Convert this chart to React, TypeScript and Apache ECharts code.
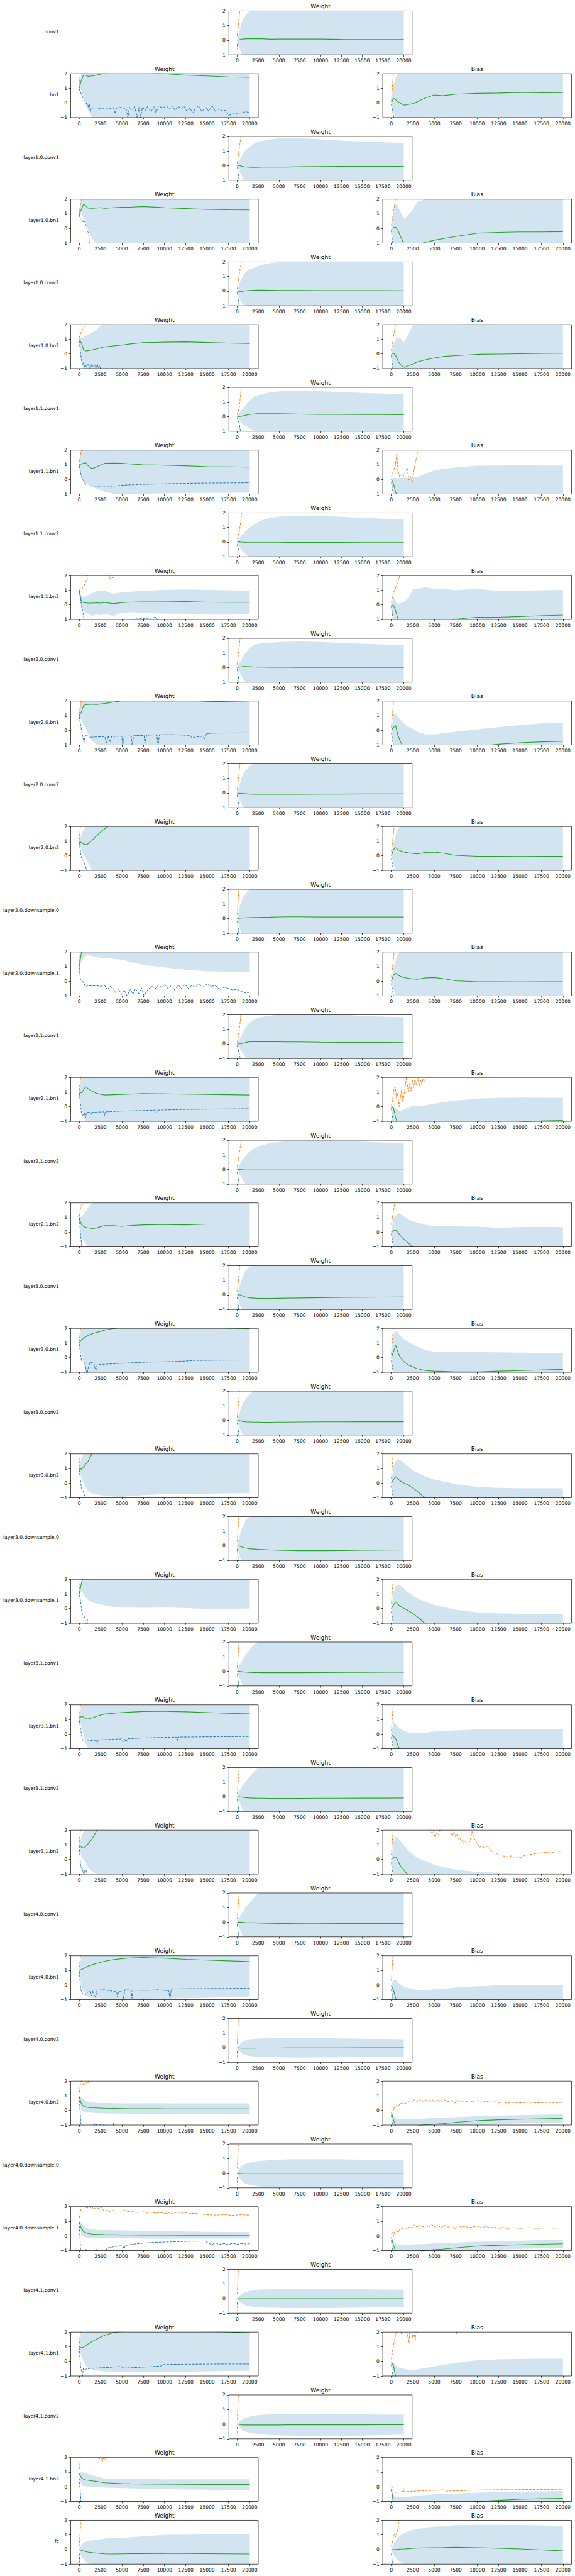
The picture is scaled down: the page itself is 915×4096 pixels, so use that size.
import React, { useEffect, useRef } from "react";
import * as echarts from "echarts";

type Curve = (number | null)[] | [number, number | null][];
interface Plot { mean: Curve; hi: number[]; lo: number[]; mx: Curve; mn: Curve; }

// ---------- shared axes values ----------
const STEPS = [0, 250, 500, 750, 1000, 1500, 2000, 2500, 3000, 4000, 5000, 6000, 7500, 10000, 12500, 15000, 17500, 20000];
const X_TICKS = [0, 2500, 5000, 7500, 10000, 12500, 15000, 17500, 20000];
const X_MIN = -1000, X_MAX = 21000;
const Y_MIN = -1, Y_MAX = 2;

// ---------- per-panel values (mean, band hi/lo, max, min) ----------
const conv1_W: Plot = {
  mean: [0, 0.03, 0.06, 0.09, 0.1, 0.1, 0.1, 0.1, 0.1, 0.07, 0.08, 0.08, 0.08, 0.08, 0.06, 0.05, 0.05, 0.05],
  hi: [0.1, 0.6, 1.15, 1.45, 1.7, 2.05, 2.5, 3, 3, 3, 3, 3, 3, 3, 3, 3, 3, 3],
  lo: [-0.1, -0.5, -0.95, -1.3, -1.6, -2, -2.5, -3, -3, -3, -3, -3, -3, -3, -3, -3, -3, -3],
  mx: [0.3, 1.67, 3.0], mn: [-0.25, -2.0],
};
const bn1_W: Plot = {
  mean: [1.0, 1.55, 1.9, 1.9, 1.82, 1.85, 1.9, 1.97, 2.05, 2.15, 2.15, 2.15, 2.1, 2.0, 1.9, 1.85, 1.78, 1.75],
  hi: [1.05, 2.5, 3, 3, 3, 3, 3, 3, 3, 3, 3, 3, 3, 3, 3, 3, 3, 3],
  lo: [1.0, 0.9, 0.4, -0.15, -0.45, -1.05, -1.5, -3, -3, -3, -3, -3, -3, -3, -3, -3, -3, -3],
  mx: [1.2, 2.8],
  mn: [[0, 0.95], [250, 0.6], [500, 0.25], [750, 0.0], [1000, -0.1], [1100, -0.35], [1200, -0.1], [1300, -0.6], [1400, -0.35], [2000, -0.33], [2500, -0.4], [3000, -0.33], [3500, -0.38], [4000, -0.32], [4200, -0.7], [4400, -0.33], [5000, -0.3], [5500, -0.4], [5700, -1.0], [5900, -0.3], [6200, -0.45], [6500, -0.25], [6800, -1.0], [7000, -0.3], [7200, -1.0], [7400, -0.3], [7800, -0.5], [8000, -0.25], [8400, -0.6], [8800, -0.25], [9000, -0.7], [9300, -0.2], [9800, -0.35], [10200, -0.2], [10600, -0.4], [11000, -0.2], [11200, -0.5], [11600, -0.25], [12000, -0.35], [12300, -0.25], [12600, -0.55], [13000, -0.35], [13300, -0.7], [13600, -0.4], [14000, -0.2], [14400, -0.6], [14800, -0.3], [15200, -0.55], [15600, -0.2], [16000, -0.6], [16400, -0.4], [16800, -0.55], [17200, -0.5], [17500, -0.85], [18000, -0.75], [18500, -0.7], [19000, -0.68], [19500, -0.6], [20000, -0.65]],
};
const bn1_B: Plot = {
  mean: [0, 0.32, 0.22, 0.1, 0.0, -0.15, -0.1, -0.05, 0.08, 0.35, 0.55, 0.5, 0.6, 0.66, 0.68, 0.72, 0.7, 0.71],
  hi: [0.05, 1.2, 1.7, 2.05, 2.5, 3, 3, 3, 3, 3, 3, 3, 3, 3, 3, 3, 3, 3],
  lo: [-0.05, -0.6, -1.15, -1.6, -2, -3, -3, -3, -3, -3, -3, -3, -3, -3, -3, -3, -3, -3],
  mx: [0.1, 2.1], mn: [-0.1, -0.85, -1.6],
};
const l10c1_W: Plot = {
  mean: [0, 0.02, -0.03, -0.07, -0.09, -0.11, -0.12, -0.11, -0.1, -0.1, -0.1, -0.09, -0.07, -0.06, -0.05, -0.05, -0.05, -0.05],
  hi: [0.05, 0.35, 0.6, 0.85, 1.05, 1.3, 1.5, 1.62, 1.7, 1.8, 1.87, 1.9, 1.88, 1.8, 1.72, 1.65, 1.6, 1.57],
  lo: [-0.05, -0.35, -0.65, -0.95, -1.2, -1.5, -1.7, -1.8, -1.85, -1.95, -2, -2, -2, -1.9, -1.8, -1.75, -1.7, -1.65],
  mx: [0.15, 1.2, 2.25], mn: [-0.05, -1.1],
};
const l10b1_W: Plot = {
  mean: [1.0, 1.3, 1.65, 1.55, 1.4, 1.38, 1.4, 1.42, 1.38, 1.42, 1.45, 1.45, 1.5, 1.42, 1.36, 1.3, 1.28, 1.27],
  hi: [1.05, 2.3, 3, 3, 3, 3, 3, 3, 3, 3, 3, 3, 3, 3, 3, 3, 3, 3],
  lo: [1.0, 0.95, 0.75, 0.4, 0.0, -0.7, -1.3, -3, -3, -3, -3, -3, -3, -3, -3, -3, -3, -3],
  mx: [1.1, 1.98, 2.9],
  mn: [[0, 0.95], [150, 0.6], [300, 0.75], [450, 0.45], [600, 0.55], [750, 0.3], [900, 0.0], [1000, -0.2], [1100, -0.35], [1200, -1.05]],
};
const l10b1_B: Plot = {
  mean: [0, 0.05, 0.08, -0.1, -0.45, -1.1, -1.3, -1.25, -1.1, -0.95, -0.8, -0.7, -0.55, -0.32, -0.27, -0.24, -0.24, -0.22],
  hi: [0.05, 0.9, 1.7, 1.5, 1.2, 0.65, 0.9, 1.3, 1.8, 2.4, 3, 3, 3, 3, 3, 3, 3, 3],
  lo: [-0.05, -1.2, -3, -3, -3, -3, -3, -3, -3, -3, -3, -3, -3, -3, -3, -3, -3, -3],
  mx: [0.2, 1.1, 2.1], mn: [-0.1, -1.8],
};
const l10c2_W: Plot = {
  mean: [0, -0.01, -0.02, 0.0, 0.02, 0.05, 0.06, 0.07, 0.07, 0.06, 0.05, 0.05, 0.05, 0.04, 0.04, 0.04, 0.04, 0.03],
  hi: [0.05, 0.5, 0.85, 1.1, 1.3, 1.5, 1.6, 1.72, 1.8, 1.92, 1.98, 2.05, 2.1, 2.15, 2.15, 2.1, 2.1, 2.1],
  lo: [-0.05, -0.45, -0.75, -0.95, -1.1, -1.4, -1.5, -1.6, -1.7, -1.8, -1.9, -1.95, -2, -2, -2, -2, -2, -2],
  mx: [0.15, 1.2, 2.05], mn: [-0.05, -1.1],
};
const l10b2_W: Plot = {
  mean: [1.0, 0.75, 0.3, 0.2, 0.22, 0.28, 0.33, 0.42, 0.48, 0.55, 0.6, 0.68, 0.77, 0.8, 0.82, 0.78, 0.74, 0.71],
  hi: [1.05, 1.1, 1.15, 1.25, 1.3, 1.45, 1.6, 1.95, 2.3, 3, 3, 3, 3, 3, 3, 3, 3, 3],
  lo: [0.95, -0.3, -1.2, -3, -3, -3, -3, -3, -3, -3, -3, -3, -3, -3, -3, -3, -3, -3],
  mx: [1.1, 1.55, 1.75, 2.05],
  mn: [[0, 0.9], [250, -0.4], [400, -0.75], [500, -0.6], [600, -0.95], [700, -0.7], [850, -0.9], [1000, -0.65], [1150, -0.85], [1300, -1.05], [1450, -0.7], [1600, -0.85], [1800, -0.75], [2000, -1.05], [2100, -0.7], [2250, -0.95], [2400, -0.8], [2550, -1.1]],
};
const l10b2_B: Plot = {
  mean: [0, 0.05, -0.1, -0.45, -0.7, -0.92, -0.8, -0.7, -0.55, -0.4, -0.28, -0.18, -0.12, -0.03, -0.01, 0.01, 0.03, 0.04],
  hi: [0.05, 0.7, 1.0, 1.15, 1.1, 0.8, 1.4, 1.95, 2.4, 3, 3, 3, 3, 3, 3, 3, 3, 3],
  lo: [-0.05, -1.0, -1.8, -3, -3, -3, -3, -3, -3, -3, -3, -3, -3, -3, -3, -3, -3, -3],
  mx: [0.2, 1.15, 2.1], mn: [-0.1, -1.4],
};
const l11c1_W: Plot = {
  mean: [0, 0.01, 0.02, 0.06, 0.1, 0.15, 0.18, 0.2, 0.2, 0.2, 0.2, 0.19, 0.17, 0.15, 0.15, 0.14, 0.14, 0.13],
  hi: [0.05, 0.25, 0.45, 0.62, 0.82, 1.1, 1.35, 1.46, 1.55, 1.66, 1.73, 1.76, 1.78, 1.74, 1.68, 1.62, 1.58, 1.56],
  lo: [-0.05, -0.25, -0.45, -0.55, -0.65, -0.8, -0.95, -1.05, -1.15, -1.3, -1.35, -1.4, -1.45, -1.45, -1.4, -1.35, -1.3, -1.3],
  mx: [0.1, 0.65, 2.1], mn: [-0.1, -0.5, -1.4],
};
const l11b1_W: Plot = {
  mean: [1.0, 1.05, 1.1, 1.14, 0.95, 0.73, 0.85, 0.98, 1.1, 1.12, 1.1, 1.05, 1.0, 0.97, 0.93, 0.87, 0.86, 0.84],
  hi: [1.05, 2.3, 3, 3, 3, 3, 3, 3, 3, 3, 3, 3, 3, 3, 3, 3, 3, 3],
  lo: [0.95, 0.1, -0.15, -0.25, -0.35, -0.5, -0.62, -0.72, -0.85, -0.98, -1.02, -1.0, -0.98, -0.95, -0.93, -0.92, -0.91, -0.9],
  mx: [1.2, 2.0, 2.8],
  mn: [[0, 0.95], [250, 0.2], [500, -0.1], [750, -0.35], [1000, -0.44], [1500, -0.45], [2100, -0.45], [2200, -0.55], [2300, -0.45], [3000, -0.45], [3400, -0.52], [3500, -0.47], [4000, -0.46], [5000, -0.4], [6000, -0.37], [7500, -0.34], [10000, -0.3], [12500, -0.27], [15000, -0.25], [17500, -0.24], [20000, -0.23]],
};
const l11b1_B: Plot = {
  mean: [0, -0.3, -0.85, -1.3],
  hi: [0.05, 0.1, 0.1, 0.05, 0.1, 0.12, 0.1, 0.15, 0.15, 0.4, 0.6, 0.72, 0.8, 0.93, 0.95, 0.97, 0.95, 0.94],
  lo: [-0.05, -1.2, -3, -3, -3, -3, -3, -3, -3, -3, -3, -3, -3, -3, -3, -3, -3, -3],
  mx: [[0, 0.15], [200, 0.5], [470, 0.95], [640, 1.8], [750, 0.65], [980, 0.15], [1200, 0.35], [1410, 0.2], [1620, 0.5], [1840, 0.8], [2050, -0.05], [2260, 0.2], [2480, -0.2], [2610, 0.5], [2780, 1.1], [2950, 1.5], [3100, 2.1]],
  mn: [-0.15, -1.1],
};
const l11c2_W: Plot = {
  mean: [0, 0.02, 0.0, -0.01, -0.02, -0.03, -0.03, -0.03, -0.03, -0.03, -0.03, -0.02, -0.02, -0.02, -0.02, -0.03, -0.03, -0.03],
  hi: [0.05, 0.25, 0.45, 0.55, 0.75, 1.0, 1.22, 1.38, 1.5, 1.66, 1.74, 1.8, 1.82, 1.78, 1.73, 1.66, 1.6, 1.55],
  lo: [-0.05, -0.3, -0.55, -0.7, -0.85, -1.02, -1.2, -1.3, -1.45, -1.55, -1.65, -1.75, -1.8, -1.8, -1.75, -1.7, -1.65, -1.6],
  mx: [0.2, 0.7, 1.8, 2.6], mn: [-0.15, -0.8, -1.6],
};
const l11b2_W: Plot = {
  mean: [1.0, 0.25, 0.15, 0.14, 0.12, 0.12, 0.14, 0.12, 0.16, 0.08, 0.15, 0.18, 0.2, 0.2, 0.22, 0.18, 0.17, 0.17],
  hi: [1.05, 0.6, 0.55, 0.6, 0.65, 0.8, 0.95, 0.92, 0.95, 0.75, 0.85, 0.9, 0.95, 1.02, 1.05, 1.02, 1.0, 0.98],
  lo: [0.95, -0.3, -0.45, -0.55, -0.6, -0.75, -0.65, -0.7, -0.6, -0.75, -0.55, -0.5, -0.55, -0.6, -0.6, -0.67, -0.67, -0.65],
  mx: [[0, 1.0], [150, 1.1], [300, 1.05], [450, 1.25], [600, 1.35], [750, 1.55], [900, 1.75], [1050, 2.1], [1100, null], [3450, null], [3500, 2.1], [3600, 1.8], [3800, 1.9], [4000, 1.85], [4150, 2.1]],
  mn: [[0, 0.95], [250, 0.0], [500, -0.75], [600, -1.1], [700, null], [6100, null], [6200, -1.05], [6500, -0.97], [7500, -0.93], [8500, -0.9], [9000, -0.85], [9200, -1.05]],
};
const l11b2_B: Plot = {
  mean: [0, -0.05, -0.4, -0.95, -1.3, -1.5, -1.5, -1.5, -1.5, -1.5, -1.4, -1.25, -0.98, -0.85, -0.85, -0.8, -0.74, -0.7],
  hi: [0.05, 0.55, 0.3, 0.0, 0.1, 0.2, 0.5, 1.05, 1.1, 1.2, 1.1, 1.1, 1.0, 1.1, 0.95, 0.97, 1.0, 1.02],
  lo: [-0.05, -1.2, -3, -3, -3, -3, -3, -3, -3, -3, -3, -3, -3, -3, -3, -3, -3, -3],
  mx: [0.15, 0.85, 1.15, 1.55, 2.05], mn: [-0.1, -1.15],
};
const l20c1_W: Plot = {
  mean: [0, 0.03, 0.05, 0.07, 0.07, 0.06, 0.04, 0.03, 0.03, 0.02, 0.02, 0.02, 0.01, 0.01, 0.01, 0.01, 0.01, 0.01],
  hi: [0.05, 0.3, 0.55, 0.8, 1.0, 1.35, 1.55, 1.62, 1.67, 1.71, 1.74, 1.76, 1.78, 1.75, 1.68, 1.63, 1.58, 1.53],
  lo: [-0.05, -0.3, -0.55, -0.8, -1.05, -1.35, -1.5, -1.6, -1.65, -1.7, -1.72, -1.74, -1.76, -1.73, -1.66, -1.6, -1.56, -1.5],
  mx: [0.2, 1.5, 2.9], mn: [-0.1, -1.1],
};
const l20b1_W: Plot = {
  mean: [1.0, 1.25, 1.7, 1.75, 1.76, 1.78, 1.76, 1.8, 1.83, 1.92, 2.02, 2.08, 2.1, 2.1, 2.05, 1.98, 1.95, 1.92],
  hi: [1.05, 2.2, 3, 3, 3, 3, 3, 3, 3, 3, 3, 3, 3, 3, 3, 3, 3, 3],
  lo: [0.95, 0.7, 0.45, 0.15, -0.2, -0.7, -0.97, -1.15, -1.5, -2, -2, -2, -2, -2, -2, -2, -2, -2],
  mx: [1.1, 2.15],
  mn: [[0, 0.95], [250, 0.05], [470, -0.6], [560, -0.85], [690, -0.37], [1000, -0.37], [1250, -0.48], [2000, -0.45], [3000, -0.43], [3200, -0.85], [3400, -0.42], [3600, -0.8], [3800, -0.42], [5000, -0.4], [5100, -1.0], [5300, -0.4], [6100, -0.38], [6200, -1.0], [6400, -0.36], [7600, -0.35], [7700, -0.9], [7900, -0.34], [9100, -0.3], [9250, -1.05], [9400, -0.3], [11000, -0.3], [13000, -0.35], [13200, -0.5], [14500, -0.4], [14700, -0.6], [14900, -0.25], [15500, -0.2], [17500, -0.18], [20000, -0.18]],
};
const l20b1_B: Plot = {
  mean: [0, 0.2, 0.33, -0.3, -0.7, -1.3, -1.5, -1.5, -1.5, -1.5, -1.45, -1.4, -1.3, -1.1, -0.95, -0.85, -0.79, -0.75],
  hi: [0.05, 1.1, 1.15, 0.95, 0.75, 0.45, 0.25, 0.1, -0.1, -0.28, -0.28, -0.2, -0.1, 0.06, 0.22, 0.35, 0.47, 0.48],
  lo: [-0.05, -1.2, -3, -3, -3, -3, -3, -3, -3, -3, -3, -3, -3, -3, -3, -3, -3, -3],
  mx: [0.2, 1.95, 3.5], mn: [-0.15, -1.05],
};
const l20c2_W: Plot = {
  mean: [0, -0.01, -0.03, -0.04, -0.05, -0.07, -0.08, -0.08, -0.08, -0.08, -0.08, -0.08, -0.08, -0.07, -0.07, -0.06, -0.06, -0.06],
  hi: [0.05, 0.5, 1.0, 1.35, 1.55, 1.85, 2.05, 2.2, 2.2, 2.3, 2.3, 2.3, 2.3, 2.3, 2.3, 2.3, 2.3, 2.3],
  lo: [-0.05, -0.4, -0.75, -0.95, -1.15, -1.5, -1.7, -1.8, -1.9, -2, -2, -2, -2, -2, -2, -2, -2, -2],
  mx: [0.2, 1.6, 2.9], mn: [-0.1, -1.1],
};
const l20b2_W: Plot = {
  mean: [1.0, 0.9, 0.82, 0.75, 0.8, 1.05, 1.35, 1.62, 1.85, 2.3, 2.5],
  hi: [1.05, 1.4, 1.75, 2.05, 2.3, 3, 3, 3, 3, 3, 3, 3, 3, 3, 3, 3, 3, 3],
  lo: [0.95, 0.35, 0.1, -0.15, -0.45, -0.95, -1.3, -2, -2, -2, -2, -2, -2, -2, -2, -2, -2, -2],
  mx: [1.1, 2.7], mn: [0.95, -0.15, -0.3, -0.75, -1.2],
};
const l20b2_B: Plot = {
  mean: [0, 0.42, 0.55, 0.42, 0.35, 0.25, 0.2, 0.16, 0.13, 0.23, 0.25, 0.18, 0.03, -0.03, -0.03, -0.05, -0.04, -0.04],
  hi: [0.05, 0.8, 1.4, 1.85, 2.2, 3, 3, 3, 3, 3, 3, 3, 3, 3, 3, 3, 3, 3],
  lo: [-0.05, -0.55, -1.05, -2, -2, -3, -3, -3, -3, -3, -3, -3, -3, -3, -3, -3, -3, -3],
  mx: [0.25, 1.55, 3.0], mn: [-0.15, -1.0],
};
const l20d0_W: Plot = {
  mean: [0, 0.02, 0.03, 0.04, 0.05, 0.06, 0.07, 0.07, 0.08, 0.09, 0.11, 0.12, 0.12, 0.1, 0.1, 0.1, 0.1, 0.1],
  hi: [0.05, 0.7, 1.2, 1.5, 1.7, 2.02, 2.3, 2.5, 2.5, 2.5, 2.5, 2.5, 2.5, 2.5, 2.5, 2.5, 2.5, 2.5],
  lo: [-0.05, -0.55, -1.05, -1.5, -1.8, -2, -2, -2, -2, -2, -2, -2, -2, -2, -2, -2, -2, -2],
  mx: [0.25, 2.5], mn: [-0.15, -1.3],
};
const l20d1_W: Plot = {
  mean: [1.0, 1.97, 2.6],
  hi: [1.05, 2.6, 3, 3, 3, 3, 3, 3, 3, 3, 3, 3, 3, 3, 3, 3, 3, 3],
  lo: [0.95, 1.3, 1.6, 1.72, 1.78, 1.72, 1.65, 1.6, 1.6, 1.52, 1.48, 1.32, 1.12, 0.95, 0.78, 0.68, 0.65, 0.63],
  mx: [1.1, 3.0],
  mn: [[0, 0.95], [150, 0.1], [400, 0.0], [600, -0.2], [800, -0.4], [1000, -0.3], [1500, -0.32], [2000, -0.3], [2500, -0.35], [3000, -0.3], [3300, -0.6], [3600, -0.35], [4000, -0.5], [4300, -0.8], [4600, -0.55], [5000, -0.9], [5300, -0.6], [5600, -1.0], [6000, -0.55], [6300, -0.9], [6600, -0.5], [7000, -0.85], [7300, -0.45], [7600, -1.0], [8000, -0.6], [8500, -0.35], [9000, -0.5], [9300, -0.25], [9700, -0.45], [10000, -0.2], [10400, -0.5], [10800, -0.3], [11200, -0.6], [11600, -0.25], [12000, -0.5], [12400, -0.2], [12800, -0.5], [13200, -0.3], [13600, -0.4], [14000, -0.2], [14500, -0.4], [15000, -0.2], [15500, -0.35], [16000, -0.3], [16500, -0.6], [17000, -0.4], [17500, -0.5], [18000, -0.6], [18500, -0.55], [19000, -0.7], [19500, -0.8], [20000, -0.75]],
};
const l21c1_W: Plot = {
  mean: [0, 0.01, 0.02, 0.06, 0.1, 0.15, 0.15, 0.15, 0.15, 0.15, 0.15, 0.14, 0.14, 0.12, 0.11, 0.1, 0.1, 0.09],
  hi: [0.05, 0.3, 0.6, 0.85, 1.1, 1.45, 1.65, 1.77, 1.85, 1.94, 2.0, 2.03, 2.05, 2.04, 2.0, 1.92, 1.87, 1.83],
  lo: [-0.05, -0.25, -0.5, -0.7, -0.9, -1.15, -1.35, -1.5, -1.6, -1.7, -1.72, -1.75, -1.77, -1.78, -1.76, -1.72, -1.68, -1.65],
  mx: [0.1, 0.95, 2.4], mn: [-0.1, -0.7, -1.35],
};
const l21b1_W: Plot = {
  mean: [1.0, 0.95, 1.15, 1.37, 1.25, 1.05, 0.92, 0.85, 0.8, 0.82, 0.84, 0.86, 0.9, 0.88, 0.86, 0.84, 0.82, 0.8],
  hi: [1.05, 2.2, 3, 3, 3, 3, 3, 3, 3, 3, 3, 3, 3, 3, 3, 3, 3, 3],
  lo: [0.95, 0.0, -0.6, -1.0, -1.3, -2, -2, -2, -2, -2, -2, -2, -2, -2, -2, -2, -2, -2],
  mx: [1.1, 2.4],
  mn: [[0, 0.95], [150, 0.2], [260, -0.45], [400, -0.6], [600, -0.45], [730, -0.75], [850, -0.4], [1000, -0.38], [1400, -0.4], [1460, -0.55], [1550, -0.38], [2500, -0.36], [2900, -0.35], [2970, -0.62], [3050, -0.35], [5000, -0.3], [7500, -0.26], [8900, -0.24], [9000, -0.4], [9100, -0.24], [10000, -0.22], [12500, -0.19], [15000, -0.17], [17500, -0.15], [20000, -0.14]],
};
const l21b1_B: Plot = {
  mean: [0, -0.1, -0.75, -1.2, -1.4, -1.5, -1.5, -1.5, -1.5, -1.5, -1.5, -1.45, -1.4, -1.35, -1.2, -1.05, -0.97, -0.94],
  hi: [0.05, 0.05, -0.1, -0.2, -0.3, -0.15, -0.05, 0.05, 0.05, 0.1, 0.2, 0.3, 0.42, 0.55, 0.6, 0.62, 0.61, 0.6],
  lo: [-0.05, -1.2, -3, -3, -3, -3, -3, -3, -3, -3, -3, -3, -3, -3, -3, -3, -3, -3],
  mx: [[0, 0.05], [150, 0.5], [300, 1.2], [450, 1.35], [600, 0.6], [750, 0.9], [900, 0.0], [1050, 0.6], [1200, 1.2], [1350, 0.3], [1500, 0.9], [1650, 1.5], [1750, 2.05], [1850, 1.5], [2000, 1.0], [2150, 1.6], [2300, 1.1], [2450, 1.8], [2600, 1.3], [2750, 1.9], [2900, 1.5], [3100, 1.95], [3250, 1.4], [3400, 1.8], [3550, 1.55], [3700, 1.9], [3850, 1.7], [4000, 2.1]],
  mn: [-0.1, -1.2],
};
const l21c2_W: Plot = {
  mean: [0, 0.0, -0.01, -0.02, -0.03, -0.03, -0.03, -0.03, -0.03, -0.03, -0.03, -0.03, -0.03, -0.03, -0.03, -0.03, -0.03, -0.03],
  hi: [0.05, 0.3, 0.55, 0.75, 0.95, 1.22, 1.42, 1.55, 1.66, 1.8, 1.88, 1.92, 1.95, 1.97, 1.95, 1.9, 1.84, 1.8],
  lo: [-0.05, -0.3, -0.55, -0.8, -1.0, -1.3, -1.45, -1.6, -1.7, -1.82, -1.9, -1.95, -1.98, -2, -2, -1.95, -1.9, -1.85],
  mx: [0.2, 1.1, 2.05], mn: [-0.15, -1.1],
};
const l21b2_W: Plot = {
  mean: [1.0, 0.52, 0.38, 0.33, 0.3, 0.25, 0.28, 0.38, 0.45, 0.45, 0.4, 0.45, 0.5, 0.52, 0.5, 0.55, 0.55, 0.55],
  hi: [1.05, 1.05, 1.2, 1.4, 1.65, 2.2, 3, 3, 3, 3, 3, 3, 3, 3, 3, 3, 3, 3],
  lo: [0.95, -0.3, -0.55, -0.75, -0.98, -1.4, -2, -2, -2, -2, -2, -2, -2, -2, -2, -2, -2, -2],
  mx: [[0, 1.05], [150, 1.6], [250, 1.85], [400, 1.95], [500, 1.9], [600, 2.1]],
  mn: [0.95, -0.7, -2.5],
};
const l21b2_B: Plot = {
  mean: [0, 0.12, 0.15, 0.0, -0.2, -0.5, -0.75, -1.02, -1.2],
  hi: [0.05, 1.0, 1.15, 1.22, 1.3, 1.05, 0.85, 0.75, 0.65, 0.5, 0.4, 0.42, 0.4, 0.38, 0.3, 0.35, 0.36, 0.34],
  lo: [-0.05, -1.2, -3, -3, -3, -3, -3, -3, -3, -3, -3, -3, -3, -3, -3, -3, -3, -3],
  mx: [0.5, 1.5, 2.3], mn: [-0.1, -1.1],
};
const l30c1_W: Plot = {
  mean: [0, 0.01, -0.03, -0.1, -0.14, -0.2, -0.22, -0.24, -0.24, -0.24, -0.23, -0.22, -0.21, -0.19, -0.17, -0.16, -0.15, -0.14],
  hi: [0.05, 0.55, 1.0, 1.35, 1.65, 1.95, 2.15, 2.3, 2.3, 2.3, 2.3, 2.3, 2.3, 2.3, 2.3, 2.3, 2.3, 2.3],
  lo: [-0.05, -0.55, -0.9, -1.15, -1.5, -1.8, -2, -2, -2, -2, -2, -2, -2, -2, -2, -2, -2, -2],
  mx: [0.18, 1.6, 3.0], mn: [-0.15, -1.4],
};
const l30b1_W: Plot = {
  mean: [1.0, 1.2, 1.33, 1.42, 1.5, 1.63, 1.72, 1.8, 1.88, 2.0, 2.05, 2.08, 2.1, 2.1, 2.08, 2.05, 2.02, 1.99],
  hi: [1.05, 2.2, 3, 3, 3, 3, 3, 3, 3, 3, 3, 3, 3, 3, 3, 3, 3, 3],
  lo: [0.95, 0.3, -0.3, -0.85, -1.2, -2, -2, -2, -2, -2, -2, -2, -2, -2, -2, -2, -2, -2],
  mx: [1.1, 2.5],
  mn: [[0, 0.95], [150, 0.3], [250, -0.2], [400, -0.28], [600, -0.3], [750, -0.6], [850, -1.05], [950, -1.05], [1050, -0.7], [1250, -0.32], [1700, -0.33], [1850, -0.7], [1980, -0.85], [2100, -0.5], [2320, -0.47], [3600, -0.43], [5760, -0.36], [7900, -0.31], [10000, -0.28], [12200, -0.24], [13500, -0.19], [16500, -0.17], [20000, -0.16]],
};
const l30b1_B: Plot = {
  mean: [0, 0.4, 0.85, 0.4, 0.05, -0.3, -0.5, -0.62, -0.75, -0.88, -0.92, -0.94, -0.97, -0.97, -0.92, -0.88, -0.84, -0.8],
  hi: [0.05, 1.6, 1.85, 1.75, 1.55, 1.25, 1.05, 0.9, 0.75, 0.5, 0.42, 0.4, 0.4, 0.38, 0.36, 0.34, 0.33, 0.33],
  lo: [-0.05, -1.2, -3, -3, -3, -3, -3, -3, -3, -3, -3, -3, -3, -3, -3, -3, -3, -3],
  mx: [0.2, 2.2], mn: [-0.2, -1.1],
};
const l30c2_W: Plot = {
  mean: [0, -0.01, -0.05, -0.08, -0.1, -0.11, -0.12, -0.12, -0.13, -0.13, -0.12, -0.12, -0.11, -0.1, -0.1, -0.09, -0.09, -0.09],
  hi: [0.05, 0.5, 0.95, 1.25, 1.45, 1.8, 2.05, 2.3, 2.3, 2.3, 2.3, 2.3, 2.3, 2.3, 2.3, 2.3, 2.3, 2.3],
  lo: [-0.05, -0.45, -0.8, -1.1, -1.5, -1.8, -2, -2, -2, -2, -2, -2, -2, -2, -2, -2, -2, -2],
  mx: [0.2, 1.85, 3.5], mn: [-0.15, -1.2],
};
const l30b2_W: Plot = {
  mean: [1.0, 0.95, 1.1, 1.3, 1.45, 2.02, 2.4],
  hi: [1.05, 1.7, 2.2, 3, 3, 3, 3, 3, 3, 3, 3, 3, 3, 3, 3, 3, 3, 3],
  lo: [0.95, 0.35, 0.05, -0.25, -0.55, -0.7, -0.76, -0.82, -0.86, -0.93, -0.95, -0.88, -0.82, -0.75, -0.74, -0.72, -0.7, -0.68],
  mx: [1.1, 2.9], mn: [0.95, -0.35, -0.6, -1.1],
};
const l30b2_B: Plot = {
  mean: [0, 0.25, 0.45, 0.3, 0.16, 0.0, -0.15, -0.33, -0.55, -1.05],
  hi: [0.05, 1.1, 1.5, 1.64, 1.6, 1.35, 1.1, 0.88, 0.72, 0.45, 0.25, 0.12, -0.08, -0.26, -0.32, -0.35, -0.35, -0.35],
  lo: [-0.05, -1.2, -3, -3, -3, -3, -3, -3, -3, -3, -3, -3, -3, -3, -3, -3, -3, -3],
  mx: [0.3, 2.3], mn: [-0.2, -1.1],
};
const l30d0_W: Plot = {
  mean: [0, -0.02, -0.06, -0.12, -0.15, -0.2, -0.22, -0.24, -0.25, -0.28, -0.3, -0.31, -0.33, -0.33, -0.32, -0.3, -0.29, -0.28],
  hi: [0.05, 0.6, 1.1, 1.45, 1.75, 2.05, 2.3, 2.3, 2.3, 2.3, 2.3, 2.3, 2.3, 2.3, 2.3, 2.3, 2.3, 2.3],
  lo: [-0.05, -0.6, -1.05, -1.5, -1.8, -2, -2, -2, -2, -2, -2, -2, -2, -2, -2, -2, -2, -2],
  mx: [0.28, 2.6], mn: [-0.2, -1.6],
};
const l30d1_W: Plot = {
  mean: [1.0, 1.7, 2.3],
  hi: [1.05, 2.4, 3, 3, 3, 3, 3, 3, 3, 3, 3, 3, 3, 3, 3, 3, 3, 3],
  lo: [0.95, 1.2, 1.0, 0.8, 0.6, 0.45, 0.35, 0.28, 0.22, 0.12, 0.06, 0.06, 0.05, 0.07, 0.03, -0.02, -0.01, 0.0],
  mx: [1.1, 3.0],
  mn: [[0, 0.95], [170, 0.5], [260, -0.05], [390, -0.47], [600, -0.55], [730, -0.85], [780, -1.05], [850, null], [900, -1.05], [950, -0.75], [1000, -1.05]],
};
const l31c1_W: Plot = {
  mean: [0, 0.0, -0.02, -0.04, -0.05, -0.07, -0.08, -0.08, -0.09, -0.09, -0.09, -0.09, -0.09, -0.08, -0.07, -0.07, -0.06, -0.06],
  hi: [0.05, 0.35, 0.65, 0.9, 1.1, 1.48, 1.85, 2.05, 2.3, 2.3, 2.3, 2.3, 2.3, 2.3, 2.3, 2.3, 2.3, 2.3],
  lo: [-0.05, -0.4, -0.75, -1.0, -1.2, -1.5, -1.8, -2, -2, -2, -2, -2, -2, -2, -2, -2, -2, -2],
  mx: [0.25, 2.25], mn: [-0.15, -1.3],
};
const l31b1_W: Plot = {
  mean: [1.0, 1.22, 1.15, 1.05, 1.03, 1.1, 1.2, 1.3, 1.37, 1.42, 1.47, 1.5, 1.54, 1.55, 1.52, 1.47, 1.42, 1.38],
  hi: [1.05, 2.3, 3, 3, 3, 3, 3, 3, 3, 3, 3, 3, 3, 3, 3, 3, 3, 3],
  lo: [0.95, 0.55, 0.0, -0.6, -0.97, -1.3, -2, -2, -2, -2, -2, -2, -2, -2, -2, -2, -2, -2],
  mx: [1.1, 2.5],
  mn: [[0, 0.95], [260, 0.0], [390, -0.5], [1000, -0.47], [1500, -0.44], [2000, -0.42], [2100, -0.6], [2200, -0.41], [3500, -0.37], [5000, -0.33], [5200, -0.56], [5350, -0.32], [5500, -0.56], [5650, -0.32], [7500, -0.27], [10000, -0.23], [11500, -0.22], [11570, -0.45], [11650, -0.21], [15000, -0.19], [20000, -0.17]],
};
const l31b1_B: Plot = {
  mean: [0, -0.18, -0.3, -0.75, -1.15],
  hi: [0.05, 0.85, 0.7, 0.52, 0.4, 0.2, 0.1, 0.05, 0.04, 0.1, 0.17, 0.2, 0.25, 0.31, 0.33, 0.35, 0.35, 0.34],
  lo: [-0.05, -1.2, -3, -3, -3, -3, -3, -3, -3, -3, -3, -3, -3, -3, -3, -3, -3, -3],
  mx: [0.2, 2.3], mn: [-0.2, -1.1],
};
const l31c2_W: Plot = {
  mean: [0, 0.0, -0.02, -0.04, -0.06, -0.08, -0.09, -0.1, -0.1, -0.11, -0.11, -0.11, -0.11, -0.1, -0.1, -0.09, -0.09, -0.08],
  hi: [0.05, 0.35, 0.65, 0.85, 1.05, 1.37, 1.7, 1.98, 2.1, 2.3, 2.3, 2.3, 2.3, 2.3, 2.3, 2.3, 2.3, 2.3],
  lo: [-0.05, -0.35, -0.7, -0.95, -1.15, -1.5, -1.8, -2, -2, -2, -2, -2, -2, -2, -2, -2, -2, -2],
  mx: [0.2, 2.15], mn: [-0.15, -1.3],
};
const l31b2_W: Plot = {
  mean: [1.0, 0.85, 0.78, 0.88, 1.05, 1.4, 1.92, 2.3],
  hi: [1.05, 1.5, 1.9, 2.2, 3, 3, 3, 3, 3, 3, 3, 3, 3, 3, 3, 3, 3, 3],
  lo: [0.95, 0.2, 0.0, -0.2, -0.55, -0.8, -0.98, -1.1, -2, -2, -2, -2, -2, -2, -2, -2, -2, -2],
  mx: [1.15, 2.6],
  mn: [[0, 0.95], [170, -0.5], [350, -0.62], [450, -0.85], [560, -1.02], [650, -0.75], [750, -0.9], [850, -0.72], [950, -1.1]],
};
const l31b2_B: Plot = {
  mean: [0, 0.15, 0.17, -0.04, -0.4, -0.75, -1.1],
  hi: [0.05, 1.15, 1.55, 1.5, 1.3, 0.95, 0.6, 0.35, 0.12, -0.12, -0.35, -0.52, -0.7, -0.85, -0.9, -0.93, -0.93, -0.94],
  lo: [-0.05, -1.2, -3, -3, -3, -3, -3, -3, -3, -3, -3, -3, -3, -3, -3, -3, -3, -3],
  mx: [[0, 0.3], [250, 2.3], [400, null], [4500, 2.1], [4700, 1.8], [4900, 1.95], [5100, 1.5], [5300, 1.85], [5500, 1.7], [5700, 2.05], [5900, null], [6900, 2.05], [7100, 1.6], [7300, 1.9], [7500, 1.55], [7700, 1.8], [7900, 1.3], [8100, 1.45], [8400, 1.15], [8600, 1.3], [8900, 0.95], [9200, 1.3], [9400, 1.9], [9600, 1.5], [9800, 1.3], [10000, 1.1], [10300, 0.85], [10600, 0.95], [10900, 0.75], [11200, 0.9], [11500, 0.65], [11800, 0.55], [12100, 0.5], [12400, 0.35], [12800, 0.3], [13200, 0.22], [13600, 0.18], [14000, 0.25], [14300, 0.1], [14700, 0.2], [15000, 0.12], [15400, 0.25], [15800, 0.3], [16200, 0.35], [16600, 0.38], [17000, 0.42], [17500, 0.45], [18000, 0.48], [18500, 0.45], [19000, 0.5], [19500, 0.55], [20000, 0.52]],
  mn: [-0.2, -1.2],
};
const l40c1_W: Plot = {
  mean: [0, 0.01, 0.0, -0.01, -0.02, -0.03, -0.04, -0.05, -0.06, -0.07, -0.08, -0.09, -0.1, -0.1, -0.09, -0.09, -0.08, -0.08],
  hi: [0.05, 0.3, 0.6, 0.8, 1.02, 1.35, 1.68, 1.98, 2.1, 2.3, 2.3, 2.3, 2.3, 2.3, 2.3, 2.3, 2.3, 2.3],
  lo: [-0.05, -0.4, -0.75, -1.0, -1.2, -1.5, -1.8, -2, -2, -2, -2, -2, -2, -2, -2, -2, -2, -2],
  mx: [0.2, 2.15], mn: [-0.15, -1.3],
};
const l40b1_W: Plot = {
  mean: [1.0, 1.05, 1.12, 1.2, 1.28, 1.38, 1.47, 1.55, 1.62, 1.73, 1.8, 1.85, 1.88, 1.83, 1.75, 1.7, 1.65, 1.6],
  hi: [1.05, 2.3, 3, 3, 3, 3, 3, 3, 3, 3, 3, 3, 3, 3, 3, 3, 3, 3],
  lo: [0.95, -0.1, -0.45, -0.65, -0.8, -0.88, -0.9, -0.92, -0.93, -0.95, -0.95, -0.94, -0.93, -0.92, -0.9, -0.87, -0.83, -0.8],
  mx: [1.2, 2.5],
  mn: [[0, 0.95], [170, -0.3], [400, -0.6], [700, -0.68], [1000, -0.5], [1300, -0.42], [1460, -0.75], [1600, -0.4], [1900, -0.82], [2100, -0.36], [2900, -0.33], [3600, -0.4], [4400, -0.47], [4470, -0.82], [4600, -0.45], [5100, -0.47], [5200, -0.95], [5350, -0.33], [6100, -0.35], [6190, -0.9], [6300, -0.36], [8000, -0.37], [9200, -0.33], [10500, -0.4], [10640, -0.92], [10800, -0.28], [12200, -0.26], [14300, -0.25], [16500, -0.24], [20000, -0.23]],
};
const l40b1_B: Plot = {
  mean: [-0.05, -0.35, -0.9, -1.3],
  hi: [0.05, 0.3, 0.35, 0.2, 0.05, -0.15, -0.22, -0.3, -0.33, -0.36, -0.3, -0.27, -0.18, -0.09, -0.02, 0.0, 0.01, 0.01],
  lo: [-0.05, -1.2, -3, -3, -3, -3, -3, -3, -3, -3, -3, -3, -3, -3, -3, -3, -3, -3],
  mx: [0.3, 2.6], mn: [-0.3, -1.2],
};
const l40c2_W: Plot = {
  mean: [0, -0.01, -0.03, -0.03, -0.03, -0.03, -0.03, -0.02, -0.02, -0.02, -0.02, -0.01, -0.01, -0.01, -0.01, 0, 0, 0],
  hi: [0.05, 0.2, 0.35, 0.45, 0.52, 0.58, 0.6, 0.62, 0.63, 0.64, 0.65, 0.65, 0.66, 0.65, 0.63, 0.61, 0.6, 0.58],
  lo: [-0.05, -0.2, -0.35, -0.45, -0.51, -0.57, -0.6, -0.62, -0.63, -0.65, -0.66, -0.67, -0.68, -0.67, -0.66, -0.64, -0.62, -0.6],
  mx: [0.25, 3.5], mn: [-0.25, -2.5],
};
const l40b2_W: Plot = {
  mean: [0.95, 0.45, 0.28, 0.24, 0.21, 0.18, 0.17, 0.16, 0.15, 0.14, 0.13, 0.12, 0.12, 0.11, 0.1, 0.1, 0.1, 0.1],
  hi: [1.0, 0.9, 0.78, 0.68, 0.6, 0.55, 0.52, 0.5, 0.5, 0.49, 0.48, 0.48, 0.48, 0.48, 0.48, 0.48, 0.48, 0.48],
  lo: [0.9, 0.0, -0.08, -0.12, -0.14, -0.16, -0.18, -0.19, -0.2, -0.21, -0.22, -0.23, -0.24, -0.25, -0.25, -0.26, -0.26, -0.26],
  mx: [[0, 1.2], [150, 1.85], [250, 2.05], [400, 1.7], [550, 1.9], [700, 1.75], [850, 1.95], [1000, 1.85], [1120, 2.05]],
  mn: [[0, 0.95], [210, -1.05], [300, null], [1750, -1.05], [1900, -0.9], [2050, -1.0], [2200, -0.9], [2400, -0.95], [2600, -1.05], [2700, null], [2800, -1.05], [2950, -0.92], [3100, -1.05], [3300, null], [4000, -1.05], [4050, -0.82], [4100, -1.05]],
};
const l40b2_B: Plot = {
  mean: [-0.1, -0.65, -1.05, -1.2, -1.25, -1.25, -1.2, -1.15, -1.05, -0.98, -0.94, -0.9, -0.82, -0.7, -0.64, -0.6, -0.57, -0.54],
  hi: [-0.05, -0.4, -0.52, -0.58, -0.6, -0.61, -0.6, -0.58, -0.57, -0.55, -0.52, -0.5, -0.46, -0.4, -0.36, -0.32, -0.29, -0.27],
  lo: [-0.15, -1.2, -1.5, -1.5, -1.5, -1.5, -1.5, -1.45, -1.4, -1.3, -1.25, -1.2, -1.1, -1.0, -0.93, -0.88, -0.85, -0.82],
  mx: [[0, 0.17], [150, 0.25], [250, 0.0], [400, 0.3], [600, 0.35], [800, 0.25], [1000, 0.45], [1300, 0.5], [1600, 0.45], [2000, 0.6], [2400, 0.55], [2700, 0.75], [3000, 0.6], [3300, 0.72], [3600, 0.62], [4000, 0.7], [4400, 0.6], [4700, 0.78], [5000, 0.62], [5400, 0.7], [5800, 0.58], [6200, 0.72], [6600, 0.6], [7000, 0.68], [7400, 0.5], [7800, 0.7], [8200, 0.6], [8600, 0.66], [9000, 0.55], [9500, 0.62], [10000, 0.68], [10500, 0.55], [11000, 0.65], [11500, 0.55], [12000, 0.6], [12500, 0.52], [13000, 0.58], [13500, 0.5], [14000, 0.56], [15000, 0.52], [16000, 0.56], [17000, 0.52], [18000, 0.55], [19000, 0.53], [20000, 0.55]],
  mn: [-0.3, -1.6],
};
const l40d0_W: Plot = {
  mean: [0, -0.01, -0.02, -0.03, -0.03, -0.03, -0.03, -0.03, -0.03, -0.03, -0.03, -0.03, -0.03, -0.03, -0.03, -0.03, -0.03, -0.03],
  hi: [0.05, 0.3, 0.48, 0.58, 0.64, 0.72, 0.78, 0.82, 0.85, 0.89, 0.92, 0.94, 0.95, 0.96, 0.94, 0.92, 0.9, 0.87],
  lo: [-0.05, -0.3, -0.5, -0.62, -0.72, -0.8, -0.85, -0.9, -0.93, -0.96, -0.98, -1.0, -1.01, -1.01, -1.0, -0.98, -0.95, -0.92],
  mx: [0.3, 3.5], mn: [-0.25, -2.5],
};
const l40d1_W: Plot = {
  mean: [0.95, 0.5, 0.3, 0.22, 0.17, 0.13, 0.11, 0.1, 0.09, 0.08, 0.07, 0.07, 0.06, 0.06, 0.05, 0.05, 0.05, 0.05],
  hi: [1.0, 0.85, 0.72, 0.6, 0.52, 0.45, 0.42, 0.4, 0.4, 0.39, 0.38, 0.37, 0.35, 0.33, 0.3, 0.28, 0.27, 0.26],
  lo: [0.9, 0.1, -0.05, -0.1, -0.13, -0.15, -0.15, -0.15, -0.16, -0.16, -0.17, -0.17, -0.18, -0.18, -0.18, -0.18, -0.18, -0.18],
  mx: [[0, 1.2], [150, 1.7], [260, 1.95], [400, 2.05], [500, null], [700, 2.05], [900, 1.85], [1100, 2.0], [1300, 1.9], [1500, 2.0], [1700, 1.8], [2000, 1.95], [2300, 1.85], [2600, 1.95], [2900, 1.7], [3200, 1.75], [3500, 1.65], [3800, 1.75], [4200, 1.7], [4600, 1.72], [5000, 1.68], [5400, 1.82], [5700, 1.65], [6000, 1.7], [6500, 1.62], [7000, 1.6], [7500, 1.65], [8000, 1.58], [8500, 1.62], [9000, 1.55], [9500, 1.6], [10000, 1.52], [10500, 1.58], [11000, 1.5], [11500, 1.65], [12000, 1.55], [12500, 1.58], [13000, 1.52], [13500, 1.55], [14000, 1.5], [14500, 1.48], [15000, 1.45], [16000, 1.42], [17000, 1.45], [18000, 1.4], [19000, 1.45], [20000, 1.42]],
  mn: [[0, 0.95], [170, -1.05], [250, null], [700, -1.05], [800, -0.9], [900, -1.05], [1000, null], [1900, -1.05], [2000, -0.9], [2200, -1.05], [2300, null], [3200, -1.0], [3250, -0.82], [3600, -0.8], [4000, -0.75], [4500, -0.7], [5000, -0.66], [5300, -0.85], [5400, -0.65], [6000, -0.6], [6500, -0.55], [7000, -0.52], [8000, -0.47], [9000, -0.44], [10000, -0.42], [11000, -0.4], [12000, -0.38], [13000, -0.37], [14000, -0.36], [14800, -0.35], [15000, -0.45], [15200, -0.5], [15500, -0.6], [16000, -0.48], [16500, -0.58], [17000, -0.52], [17500, -0.6], [18000, -0.5], [18500, -0.58], [19000, -0.52], [19500, -0.55], [20000, -0.53]],
};
const l41c1_W: Plot = {
  mean: [0, 0, 0, 0, 0, 0, 0, 0, 0, 0, 0, 0, 0, 0, 0, 0, 0, 0],
  hi: [0.05, 0.18, 0.3, 0.38, 0.45, 0.52, 0.57, 0.6, 0.62, 0.64, 0.66, 0.67, 0.68, 0.67, 0.66, 0.64, 0.62, 0.61],
  lo: [-0.05, -0.18, -0.3, -0.38, -0.45, -0.52, -0.56, -0.58, -0.6, -0.62, -0.63, -0.64, -0.65, -0.65, -0.63, -0.61, -0.6, -0.58],
  mx: [0.3, 3.5], mn: [-0.25, -2.5],
};
const l41b1_W: Plot = {
  mean: [1.0, 0.92, 0.98, 1.08, 1.17, 1.35, 1.5, 1.65, 1.78, 1.97, 2.05, 2.1, 2.15, 2.15, 2.1, 2.05, 2.01, 1.95],
  hi: [1.05, 2.3, 3, 3, 3, 3, 3, 3, 3, 3, 3, 3, 3, 3, 3, 3, 3, 3],
  lo: [0.95, 0.35, 0.0, -0.25, -0.42, -0.55, -0.62, -0.66, -0.68, -0.7, -0.71, -0.72, -0.72, -0.71, -0.7, -0.68, -0.66, -0.64],
  mx: [1.2, 2.4],
  mn: [[0, 0.95], [170, -0.45], [300, -0.7], [390, -1.05], [480, -0.45], [650, -0.55], [1000, -0.5], [1900, -0.46], [3600, -0.41], [4900, -0.34], [5100, -0.46], [6200, -0.43], [7900, -0.38], [9600, -0.32], [9700, -0.22], [12200, -0.2], [16500, -0.18], [20000, -0.18]],
};
const l41b1_B: Plot = {
  mean: [-0.05, -0.3, -1.05],
  hi: [0.0, -0.05, -0.25, -0.38, -0.45, -0.52, -0.56, -0.58, -0.55, -0.45, -0.35, -0.25, -0.1, 0.07, 0.14, 0.17, 0.18, 0.18],
  lo: [-0.1, -1.2, -3, -3, -3, -3, -3, -3, -3, -3, -3, -3, -3, -3, -3, -3, -3, -3],
  mx: [[0, 0.15], [200, 0.9], [350, 1.37], [470, 1.75], [560, 2.05], [650, null], [1100, 2.05], [1200, 1.8], [1300, 2.05], [1400, null], [1800, 2.05], [1900, 1.75], [2050, 1.3], [2150, 2.05], [2200, null], [2400, 2.05], [2500, 1.6], [2650, 1.85], [2800, 1.5], [2900, 2.05], [3000, null], [7550, 2.05], [7600, 1.85], [7650, 2.05]],
  mn: [-0.2, -1.5],
};
const l41c2_W: Plot = {
  mean: [0, -0.02, -0.05, -0.06, -0.06, -0.06, -0.06, -0.06, -0.06, -0.06, -0.06, -0.05, -0.05, -0.05, -0.05, -0.05, -0.04, -0.04],
  hi: [0.05, 0.15, 0.25, 0.35, 0.42, 0.52, 0.58, 0.62, 0.64, 0.67, 0.69, 0.7, 0.71, 0.7, 0.69, 0.67, 0.65, 0.64],
  lo: [-0.05, -0.2, -0.35, -0.45, -0.52, -0.6, -0.65, -0.68, -0.71, -0.74, -0.76, -0.78, -0.8, -0.81, -0.8, -0.78, -0.75, -0.72],
  mx: [0.3, 3.5], mn: [-0.2, -2.5],
};
const l41b2_W: Plot = {
  mean: [0.9, 0.62, 0.52, 0.47, 0.45, 0.41, 0.37, 0.32, 0.28, 0.25, 0.22, 0.21, 0.2, 0.18, 0.17, 0.16, 0.16, 0.16],
  hi: [0.95, 1.0, 0.98, 0.93, 0.88, 0.8, 0.72, 0.63, 0.56, 0.55, 0.54, 0.54, 0.53, 0.52, 0.52, 0.52, 0.52, 0.52],
  lo: [0.85, 0.1, 0.05, 0.03, 0.02, 0.0, -0.02, -0.03, -0.05, -0.07, -0.09, -0.11, -0.13, -0.16, -0.18, -0.19, -0.2, -0.2],
  mx: [[0, 1.2], [170, 2.05], [250, null], [2300, 2.05], [2400, 1.9], [2550, 1.95], [2700, 1.68], [2800, 1.95], [2950, 1.85], [3100, 1.98], [3250, 1.8], [3350, 2.05]],
  mn: [0.6, -1.3],
};
const l41b2_B: Plot = {
  mean: [-0.15, -1.05, -1.4, -1.4, -1.4, -1.4, -1.4, -1.4, -1.4, -1.35, -1.3, -1.25, -1.15, -1.0, -0.92, -0.85, -0.81, -0.79],
  hi: [-0.05, -0.55, -0.68, -0.69, -0.7, -0.7, -0.68, -0.65, -0.6, -0.56, -0.51, -0.48, -0.45, -0.4, -0.36, -0.33, -0.31, -0.29],
  lo: [-0.25, -3, -3, -3, -3, -3, -3, -3, -3, -3, -3, -3, -3, -3, -3, -3, -3, -3],
  mx: [[0, 0.1], [100, 0.0], [250, -0.3], [430, -0.38], [1000, -0.35], [1350, -0.32], [1400, -0.1], [1450, -0.33], [2500, -0.3], [3500, -0.27], [5500, -0.23], [6100, -0.2], [6150, -0.3], [7800, -0.27], [10000, -0.22], [12500, -0.2], [15000, -0.19], [20000, -0.17]],
  mn: [-0.2, -1.6],
};
const fc_W: Plot = {
  mean: [0, -0.05, -0.1, -0.14, -0.17, -0.21, -0.24, -0.27, -0.29, -0.3, -0.29, -0.28, -0.28, -0.27, -0.27, -0.28, -0.29, -0.3],
  hi: [0.05, 0.3, 0.45, 0.53, 0.58, 0.63, 0.67, 0.71, 0.75, 0.79, 0.82, 0.84, 0.9, 1.01, 1.02, 1.03, 1.04, 1.05],
  lo: [-0.05, -0.45, -0.65, -0.8, -0.95, -1.1, -1.2, -1.3, -1.35, -1.4, -1.4, -1.4, -1.45, -1.55, -1.55, -1.6, -1.6, -1.6],
  mx: [0.2, 2.5], mn: [-0.25, -2.8],
};
const fc_B: Plot = {
  mean: [0, 0.0, 0.01, 0.02, 0.03, 0.04, 0.06, 0.09, 0.1, 0.12, 0.13, 0.14, 0.16, 0.13, 0.09, 0.04, -0.02, -0.09],
  hi: [0.05, 0.35, 0.6, 0.8, 0.95, 1.13, 1.25, 1.33, 1.39, 1.5, 1.56, 1.6, 1.66, 1.69, 1.69, 1.68, 1.65, 1.59],
  lo: [-0.05, -0.35, -0.55, -0.7, -0.85, -1.05, -1.2, -1.3, -1.4, -1.5, -1.5, -1.5, -1.5, -1.5, -1.5, -1.5, -1.5, -1.5],
  mx: [[0, 0.19], [200, 0.73], [340, 1.05], [470, 0.85], [560, 1.05], [680, 1.15], [800, 1.5], [900, 2.05]],
  mn: [-0.25, -1.6],
};

// ---------- rows: label, weight panel, bias panel ----------
const ROWS: [string, Plot, Plot | null][] = [
  ["conv1", conv1_W, null],
  ["bn1", bn1_W, bn1_B],
  ["layer1.0.conv1", l10c1_W, null],
  ["layer1.0.bn1", l10b1_W, l10b1_B],
  ["layer1.0.conv2", l10c2_W, null],
  ["layer1.0.bn2", l10b2_W, l10b2_B],
  ["layer1.1.conv1", l11c1_W, null],
  ["layer1.1.bn1", l11b1_W, l11b1_B],
  ["layer1.1.conv2", l11c2_W, null],
  ["layer1.1.bn2", l11b2_W, l11b2_B],
  ["layer2.0.conv1", l20c1_W, null],
  ["layer2.0.bn1", l20b1_W, l20b1_B],
  ["layer2.0.conv2", l20c2_W, null],
  ["layer2.0.bn2", l20b2_W, l20b2_B],
  ["layer2.0.downsample.0", l20d0_W, null],
  ["layer2.0.downsample.1", l20d1_W, l20b2_B],
  ["layer2.1.conv1", l21c1_W, null],
  ["layer2.1.bn1", l21b1_W, l21b1_B],
  ["layer2.1.conv2", l21c2_W, null],
  ["layer2.1.bn2", l21b2_W, l21b2_B],
  ["layer3.0.conv1", l30c1_W, null],
  ["layer3.0.bn1", l30b1_W, l30b1_B],
  ["layer3.0.conv2", l30c2_W, null],
  ["layer3.0.bn2", l30b2_W, l30b2_B],
  ["layer3.0.downsample.0", l30d0_W, null],
  ["layer3.0.downsample.1", l30d1_W, l30b2_B],
  ["layer3.1.conv1", l31c1_W, null],
  ["layer3.1.bn1", l31b1_W, l31b1_B],
  ["layer3.1.conv2", l31c2_W, null],
  ["layer3.1.bn2", l31b2_W, l31b2_B],
  ["layer4.0.conv1", l40c1_W, null],
  ["layer4.0.bn1", l40b1_W, l40b1_B],
  ["layer4.0.conv2", l40c2_W, null],
  ["layer4.0.bn2", l40b2_W, l40b2_B],
  ["layer4.0.downsample.0", l40d0_W, null],
  ["layer4.0.downsample.1", l40d1_W, l40b2_B],
  ["layer4.1.conv1", l41c1_W, null],
  ["layer4.1.bn1", l41b1_W, l41b1_B],
  ["layer4.1.conv2", l41c2_W, null],
  ["layer4.1.bn2", l41b2_W, l41b2_B],
  ["fc", fc_W, fc_B],
];

// ---------- layout & style ----------
const SC = 915 / 1678;
const PITCH = 182.93 * SC;
const TOP0 = 32 * SC;
const PH = 128 * SC;
const WL = 206.3 * SC, WW = 547.4 * SC;
const BL = 1117 * SC, BW = 550.8 * SC;
const SL = 668 * SC, SW = 534.6 * SC;
const LABEL_X = 172 * SC;
const FONT = "DejaVu Sans";
const TICK_FS = 7.6, TITLE_FS = 9.1, ROW_FS = 7.6;
const ORANGE = "#ff7f0e", BLUE = "#1f77b4", GREEN = "#2ca02c", BAND = "#d2e4f0";

function toPairs(c: Curve): [number, number | null][] {
  if (c.length && Array.isArray(c[0])) return (c as [number, number | null][]).map(([x, y]) => [x, y]);
  return (c as (number | null)[]).map((y, i) => [STEPS[i], y]);
}

function fmtY(v: number) {
  return v < 0 ? "\u2212" + Math.abs(v) : String(v);
}

function buildOption() {
  const grid: any[] = [], xAxis: any[] = [], yAxis: any[] = [], series: any[] = [], graphic: any[] = [];
  let gi = 0;
  ROWS.forEach(([name, w, b], r) => {
    const top = TOP0 + r * PITCH;
    graphic.push({
      type: "text", x: LABEL_X, y: top + PH / 2 - 1.5, z: 20, silent: true,
      style: { text: name, fill: "#000", fontSize: ROW_FS, fontFamily: FONT, align: "right", verticalAlign: "middle", textAlign: "right", textVerticalAlign: "middle" },
    });
    const panels: [Plot, string, number, number][] = b ? [[w, "Weight", WL, WW], [b, "Bias", BL, BW]] : [[w, "Weight", SL, SW]];
    panels.forEach(([p, title, left, width]) => {
      const idx = gi;
      grid.push({ left, top, width, height: PH, containLabel: false, outerBoundsMode: "none", show: false });
      xAxis.push({
        gridIndex: idx, type: "value", min: X_MIN, max: X_MAX, position: "bottom",
        axisLine: { show: false, onZero: false }, splitLine: { show: false },
        axisTick: { show: true, customValues: X_TICKS, length: 2.7, lineStyle: { color: "#000", width: 0.7 } },
        axisLabel: { show: true, customValues: X_TICKS, margin: 5.3, fontSize: TICK_FS, color: "#000", fontFamily: FONT, formatter: (v: number) => String(v) },
      });
      yAxis.push({
        gridIndex: idx, type: "value", min: Y_MIN, max: Y_MAX, interval: 1, position: "left",
        axisLine: { show: false, onZero: false }, splitLine: { show: false },
        axisTick: { show: true, length: 2.7, lineStyle: { color: "#000", width: 0.7 } },
        axisLabel: { show: true, margin: 5.3, fontSize: TICK_FS, color: "#000", fontFamily: FONT, formatter: fmtY, showMinLabel: true, showMaxLabel: true },
      });
      series.push({
        type: "custom", xAxisIndex: idx, yAxisIndex: idx, clip: true, silent: true, z: 1,
        data: STEPS.map((x, i) => [x, p.lo[i], p.hi[i]]),
        encode: { x: 0, y: [1, 2] },
        renderItem: (params: any, api: any) => {
          if (params.dataIndexInside !== 0) return null;
          const upper = p.hi.map((v, i) => api.coord([STEPS[i], Math.min(v, Y_MAX)]));
          const lower = p.lo.map((v, i) => api.coord([STEPS[i], Math.max(v, Y_MIN)])).reverse();
          return { type: "polygon", shape: { points: upper.concat(lower) }, style: { fill: BAND } };
        },
      });
      const line = (c: Curve, color: string, dashed: boolean, z: number) => ({
        type: "line", xAxisIndex: idx, yAxisIndex: idx, data: toPairs(c),
        symbol: "none", showSymbol: false, clip: true, silent: true, connectNulls: false, z,
        lineStyle: { color, width: dashed ? 1 : 1.1, type: dashed ? [4, 1.8] : "solid", cap: "butt" },
        emphasis: { disabled: true },
      });
      series.push(line(p.mean, GREEN, false, 3));
      series.push(line(p.mx, ORANGE, true, 4));
      series.push(line(p.mn, BLUE, true, 4));
      graphic.push({
        type: "text", x: left + width / 2, y: top - 7.3, z: 20, silent: true,
        style: { text: title, fill: "#000", fontSize: TITLE_FS, fontFamily: FONT, align: "center", verticalAlign: "middle", textAlign: "center", textVerticalAlign: "middle" },
      });
      graphic.push({
        type: "rect", z: 30, silent: true,
        shape: { x: left, y: top, width, height: PH },
        style: { fill: "none", stroke: "#000", lineWidth: 0.7 },
      });
      gi++;
    });
  });
  return {
    animation: false,
    backgroundColor: "#fff",
    textStyle: { fontFamily: FONT },
    grid, xAxis, yAxis, series, graphic,
  };
}

export default function App() {
  const ref = useRef<HTMLDivElement>(null);
  useEffect(() => {
    if (!ref.current) return;
    const chart = echarts.init(ref.current, undefined, { renderer: "svg" });
    chart.setOption(buildOption() as any);
    return () => chart.dispose();
  }, []);
  return <div ref={ref} style={{ position: "absolute", left: 0, top: 0, width: 915, height: 4096 }} />;
}
